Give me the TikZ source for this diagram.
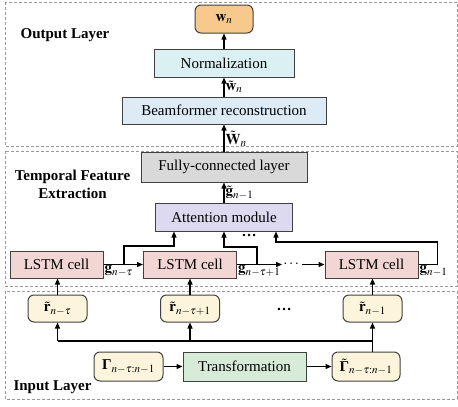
\documentclass[tikz,border=0pt]{standalone}
\usepackage{amsmath}
\usepackage{mathptmx}
\usepackage[no-math]{fontspec}
\setmainfont{Liberation Serif}
\usetikzlibrary{arrows.meta, calc}

\definecolor{outbg}{HTML}{F8C98C}
\definecolor{normbg}{HTML}{DBF0F2}
\definecolor{beambg}{HTML}{DDEBF6}
\definecolor{fcbg}{HTML}{D9D9D9}
\definecolor{attbg}{HTML}{DDD9EF}
\definecolor{lstmbg}{HTML}{F2D6D3}
\definecolor{inbg}{HTML}{FDF5DB}
\definecolor{transbg}{HTML}{D7EBD9}

\begin{document}
\begin{tikzpicture}[x=1pt, y=-1pt,
    every node/.style={font=\fontsize{15}{18}\selectfont},
    blk/.style={draw=black!75, line width=1pt, inner sep=0pt},
    rbox/.style={blk, rounded corners=6pt, fill=inbg, minimum width=59pt, minimum height=27pt},
    lstm/.style={blk, fill=lstmbg, minimum width=93pt, minimum height=27pt},
    layer/.style={draw=black!40, line width=0.9pt, dash pattern=on 3pt off 2pt},
    lbl/.style={font=\bfseries\fontsize{15}{18}\selectfont, align=center},
    arr/.style={-{Triangle[length=6pt,width=5pt]}, line width=1.2pt},
    ln/.style={line width=1.2pt}]
    \useasboundingbox (0,0) rectangle (458,407);

    % Layer frames
    \draw[layer] (5,2) rectangle (457,146);
    \draw[layer] (5,151) rectangle (457,286);
    \draw[layer] (5,291) rectangle (457,399);
    \node[lbl] at (65,35) {Output Layer};
    \node[lbl] at (72.5,184) {Temporal Feature\\Extraction};
    \node[lbl] at (52.5,387) {Input Layer};

    % Output layer
    \node[blk, rounded corners=6pt, fill=outbg, minimum width=58pt, minimum height=28pt] (wn) at (224,19) {$\mathbf{w}_n$};
    \node[blk, fill=normbg, minimum width=140pt, minimum height=28pt] (norm) at (224,63) {Normalization};
    \node[blk, fill=beambg, minimum width=204pt, minimum height=27pt] (beam) at (224,110.5) {Beamformer reconstruction};

    % Temporal feature extraction
    \node[blk, fill=fcbg, minimum width=166pt, minimum height=30pt] (fc) at (224,167) {Fully-connected layer};
    \node[blk, fill=attbg, minimum width=137pt, minimum height=28pt] (att) at (224,217) {Attention module};
    \node[lstm] (lstm1) at (56.5,264.5) {LSTM cell};
    \node[lstm] (lstm2) at (190,264.5) {LSTM cell};
    \node[lstm] (lstm3) at (371.5,264.5) {LSTM cell};
    \node[inner sep=1pt] (chdots) at (292,264.5) {$\cdots$};
    \node[inner sep=0pt] (attdots) at (249,235) {\textbf{\ldots}};

    % Input layer
    \node[rbox] (r1) at (57.5,308.5) {$\tilde{\mathbf{r}}_{n-\tau}$};
    \node[rbox] (r2) at (190,308.5) {$\tilde{\mathbf{r}}_{n-\tau+1}$};
    \node[rbox] (r3) at (372.5,308.5) {$\tilde{\mathbf{r}}_{n-1}$};
    \node[inner sep=0pt] (rdots) at (284,309) {\textbf{\ldots}};
    \node[rbox, minimum width=69pt, minimum height=29pt] (gam) at (128.5,366.5) {$\text{\textbf{Γ}}_{n-\tau:n-1}$};
    \node[blk, fill=transbg, minimum width=123pt, minimum height=29pt] (trans) at (244.5,366.5) {Transformation};
    \node[rbox, minimum width=68pt, minimum height=29pt] (gamt) at (366,366.5) {$\tilde{\text{\textbf{Γ}}}_{n-\tau:n-1}$};

    % Upward flow
    \draw[arr] (att) -- node[right, inner sep=1pt] {$\tilde{\mathbf{g}}_{n-1}$} (fc);
    \draw[arr] (fc) -- node[right, inner sep=1pt, yshift=-1pt] {$\tilde{\mathbf{W}}_n$} (beam);
    \draw[arr] (beam) -- node[right, inner sep=1pt] {$\tilde{\mathbf{w}}_n$} (norm);
    \draw[arr] (norm) -- (wn);

    % LSTM chain
    \coordinate (b1) at (124,264.5);
    \coordinate (b2) at (257,264.5);
    \draw[arr] (lstm1) -- (lstm2);
    \draw[arr] (lstm2) -- (chdots);
    \draw[arr] (chdots) -- (lstm3);
    \draw[arr] (b1) -- ++(0,-18.5) -| ([xshift=-50pt]att.south);
    \draw[arr] (b2) -- ++(0,-17.5) -| (att.south);
    \draw[arr] (lstm3.east) -- ++(19,0) -- ++(0,-22.5) -| ([xshift=52pt]att.south);
    \node[anchor=north west, inner sep=1pt] at (lstm1.east) {$\mathbf{g}_{n-\tau}$};
    \node[anchor=north west, inner sep=1pt] at (lstm2.east) {$\mathbf{g}_{n-\tau+1}$};
    \node[anchor=north west, inner sep=1pt] at (lstm3.east) {$\mathbf{g}_{n-1}$};

    % Inputs to LSTM cells
    \foreach \i in {1,2,3}
        \draw[arr] (r\i.north) -- (r\i.north |- lstm\i.south);

    % Transformation and distribution
    \coordinate (bus) at (372.5,341);
    \draw[arr] (gam) -- (trans);
    \draw[arr] (trans) -- (gamt);
    \draw[arr] (gamt.north -| r3) -- (r3);
    \draw[ln] (bus) -- (bus -| r1);
    \draw[arr] (bus -| r1) -- (r1);
    \draw[arr] (bus -| r2) -- (r2);
\end{tikzpicture}
\end{document}
